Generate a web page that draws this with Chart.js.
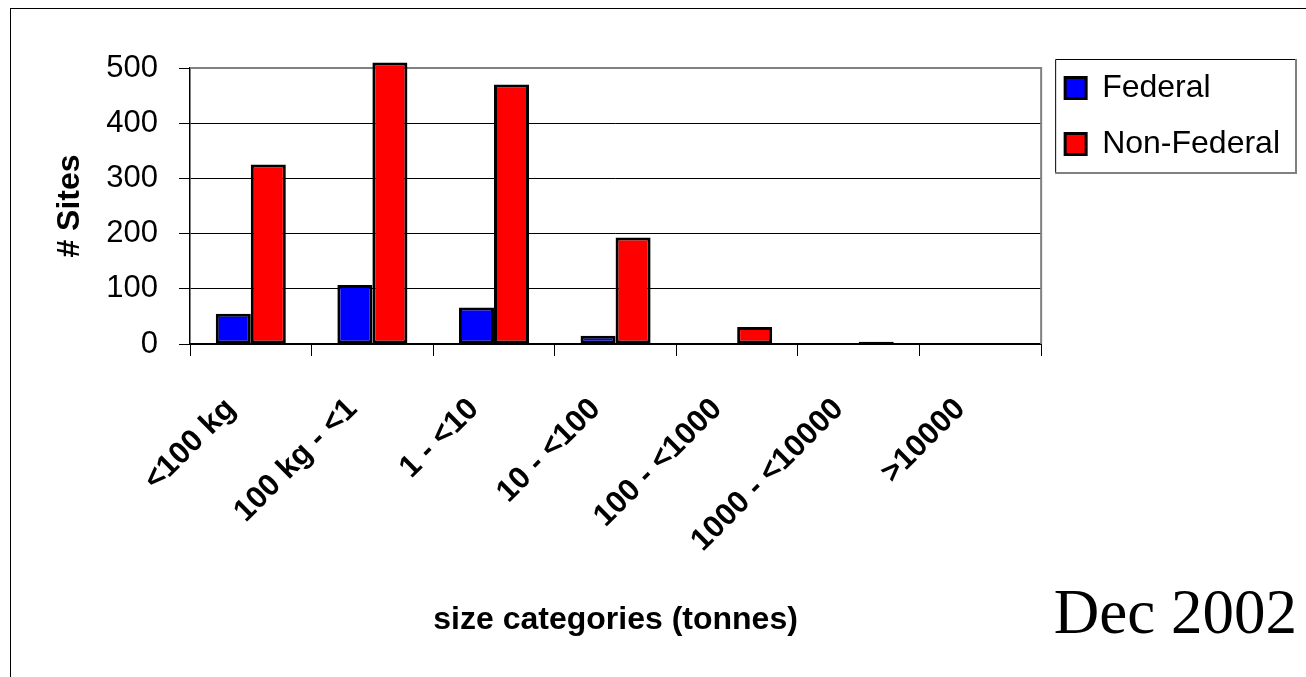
<!DOCTYPE html>
<html>
<head>
<meta charset="utf-8">
<title>Sites by size category</title>
<script src="https://cdn.jsdelivr.net/npm/chart.js@4.4.1/dist/chart.umd.min.js"></script>
<style>
  html, body { margin: 0; padding: 0; background: #fff; overflow: hidden; }
  #frame { position: absolute; left: 10px; top: 8px; width: 1400px; height: 800px; border: 1px solid #000; }
  #wrap { position: absolute; left: 0; top: 0; width: 1306px; height: 677px; }
</style>
</head>
<body>
<div id="frame"></div>
<div id="wrap"><canvas id="sitesChart"></canvas></div>
<script>
const categories = ['<100 kg', '100 kg - <1', '1 - <10', '10 - <100', '100 - <1000', '1000 - <10000', '>10000'];
const federal = [55, 107, 66, 15, 0, 0, 0];
const nonFederal = [325, 510, 470, 193, 31, 4, 0];
const yTicks = [0, 100, 200, 300, 400, 500];
const stamp = 'Dec 2002';

Chart.defaults.font.family = '"Liberation Sans", Arial, sans-serif';
Chart.defaults.color = '#000';

// gray frame on the top and right of the plot area
const plotFrame = {
  id: 'plotFrame',
  beforeDatasetsDraw(chart) {
    const { ctx, chartArea: a } = chart;
    ctx.save();
    ctx.strokeStyle = '#808080';
    ctx.lineWidth = 2;
    ctx.beginPath();
    ctx.moveTo(a.left, a.top);
    ctx.lineTo(a.right, a.top);
    ctx.lineTo(a.right, a.bottom);
    ctx.stroke();
    ctx.restore();
  }
};

// box around the legend items
const legendFrame = {
  id: 'legendFrame',
  afterDraw(chart) {
    const boxes = chart.legend.legendHitBoxes;
    if (!boxes || !boxes.length) return;
    const ctx = chart.ctx;
    const x0 = boxes[0].left - 10;
    const y0 = boxes[0].top - 13;
    const x1 = Math.max(...boxes.map(b => b.left + b.width)) + 16;
    const last = boxes[boxes.length - 1];
    const y1 = last.top + last.height + 13;
    ctx.save();
    ctx.lineWidth = 1;
    ctx.strokeStyle = '#000';
    ctx.beginPath();
    ctx.moveTo(x0 + 0.5, y1);
    ctx.lineTo(x0 + 0.5, y0 + 0.5);
    ctx.lineTo(x1, y0 + 0.5);
    ctx.stroke();
    ctx.lineWidth = 2;
    ctx.strokeStyle = '#808080';
    ctx.beginPath();
    ctx.moveTo(x1, y0);
    ctx.lineTo(x1, y1);
    ctx.lineTo(x0, y1);
    ctx.stroke();
    ctx.restore();
  }
};

// date in the lower right corner
const dateStamp = {
  id: 'dateStamp',
  afterDraw(chart) {
    const ctx = chart.ctx;
    ctx.save();
    ctx.font = '63px "Liberation Serif", "Times New Roman", serif';
    ctx.fillStyle = '#000';
    ctx.textAlign = 'right';
    ctx.textBaseline = 'alphabetic';
    ctx.fillText(stamp, chart.width - 9, chart.height - 44);
    ctx.restore();
  }
};

const ctx = document.getElementById('sitesChart').getContext('2d');

const sitesChart = new Chart(ctx, {
  type: 'bar',
  data: {
    labels: categories,
    datasets: [{
      label: 'Federal',
      data: federal,
      backgroundColor: '#0000ff',
      borderColor: '#000',
      borderWidth: 3,
      borderSkipped: false,
      clip: false
    }, {
      label: 'Non-Federal',
      data: nonFederal,
      backgroundColor: '#ff0000',
      borderColor: '#000',
      borderWidth: 3,
      borderSkipped: false,
      clip: false
    }]
  },
  options: {
    responsive: true,
    maintainAspectRatio: false,
    animation: false,
    datasets: {
      bar: { categoryPercentage: 0.576, barPercentage: 1 }
    },
    layout: { padding: { top: 48, right: 16, bottom: 0, left: 0 } },
    plugins: {
      tooltip: { enabled: false },
      legend: {
        position: 'right',
        align: 'start',
        labels: {
          boxWidth: 21,
          boxHeight: 21,
          padding: 24,
          font: { size: 32 },
          color: '#000'
        }
      }
    },
    scales: {
      x: {
        ticks: {
          font: { size: 31, weight: 'bold' },
          minRotation: 45,
          maxRotation: 45,
          autoSkip: false,
          labelOffset: -20,
          padding: 35
        },
        grid: { drawOnChartArea: false, tickLength: 12, color: '#000', lineWidth: 1 },
        border: { color: '#000', width: 2 },
        title: {
          display: true,
          text: 'size categories (tonnes)',
          font: { size: 32, weight: 'bold' },
          padding: { top: 0, bottom: 38 }
        },
        afterFit(scale) { scale.height = 333; }
      },
      y: {
        min: yTicks[0],
        max: yTicks[yTicks.length - 1],
        ticks: { stepSize: yTicks[1] - yTicks[0], padding: 21, font: { size: 31 } },
        grid: { color: '#000', lineWidth: 1, tickLength: 11 },
        border: { color: '#000', width: 1.5 },
        title: {
          display: true,
          text: '# Sites',
          font: { size: 32, weight: 'bold' },
          padding: { top: 51, bottom: 0 }
        },
        afterFit(scale) {
          scale.width = 190;
          scale.paddingTop = 68;
        }
      }
    }
  },
  plugins: [plotFrame, legendFrame, dateStamp]
});
</script>
</body>
</html>
